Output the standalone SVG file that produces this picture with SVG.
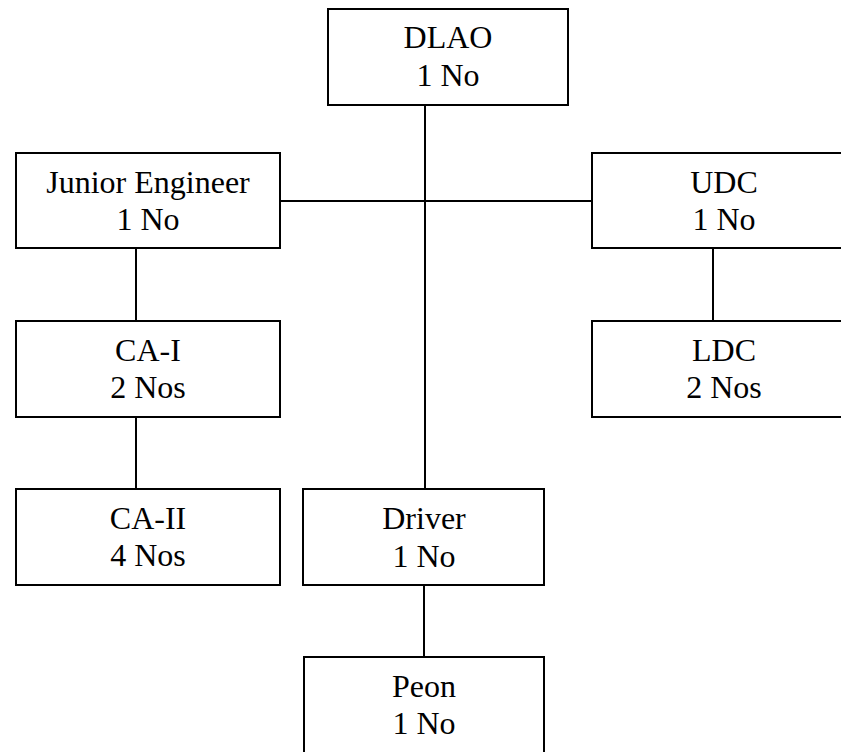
<svg xmlns="http://www.w3.org/2000/svg" width="841" height="752" viewBox="0 0 841 752">
<style>
.box{fill:#fff;stroke:#000;stroke-width:2}
.t{font-size:32px;fill:#000;text-anchor:middle}
.c{stroke:#000;stroke-width:2;fill:none}
</style>
<rect width="841" height="752" fill="#fff"/>
<g id="connectors">
<line class="c" x1="425" y1="105" x2="425" y2="489"/>
<line class="c" x1="280" y1="201" x2="592" y2="201"/>
<line class="c" x1="136" y1="248" x2="136" y2="321"/>
<line class="c" x1="136" y1="417" x2="136" y2="489"/>
<line class="c" x1="713" y1="248" x2="713" y2="321"/>
<line class="c" x1="424" y1="585" x2="424" y2="657"/>
</g>
<g font-family="Liberation Serif, Times New Roman, serif">
<g id="dlao"><rect class="box" x="328" y="9" width="240" height="96"/><text class="t" x="448" y="48">DLAO</text><text class="t" x="448" y="86">1 No</text></g>
<g id="je"><rect class="box" x="16" y="153" width="264" height="95"/><text class="t" x="148" y="193">Junior Engineer</text><text class="t" x="148" y="230">1 No</text></g>
<g id="udc"><rect class="box" x="592" y="153" width="264" height="95"/><text class="t" x="724" y="193">UDC</text><text class="t" x="724" y="230">1 No</text></g>
<g id="ca1"><rect class="box" x="16" y="321" width="264" height="96"/><text class="t" x="148" y="361">CA-I</text><text class="t" x="148" y="398">2 Nos</text></g>
<g id="ldc"><rect class="box" x="592" y="321" width="264" height="96"/><text class="t" x="724" y="361">LDC</text><text class="t" x="724" y="398">2 Nos</text></g>
<g id="ca2"><rect class="box" x="16" y="489" width="264" height="96"/><text class="t" x="148" y="529">CA-II</text><text class="t" x="148" y="566">4 Nos</text></g>
<g id="driver"><rect class="box" x="303" y="489" width="241" height="96"/><text class="t" x="424" y="529">Driver</text><text class="t" x="424" y="567">1 No</text></g>
<g id="peon"><rect class="box" x="304" y="657" width="240" height="100"/><text class="t" x="424" y="697">Peon</text><text class="t" x="424" y="734">1 No</text></g>
</g>
</svg>
